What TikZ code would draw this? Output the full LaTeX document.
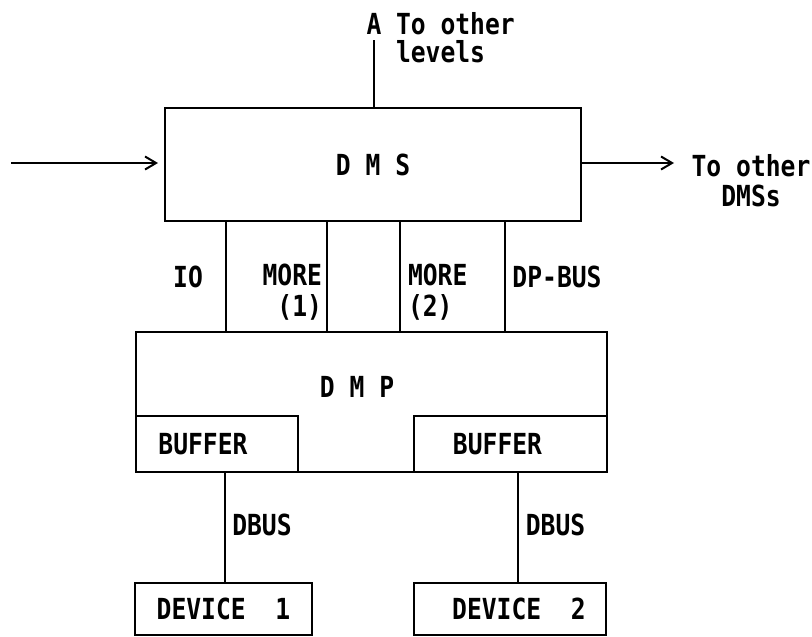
\documentclass[tikz,border=0pt]{standalone}
\usepackage{fontspec}
\setmainfont[FakeStretch=0.85,UprightFont=* Bold]{DejaVu Sans Mono}
\usetikzlibrary{arrows.meta}
\newcommand\dfont{\fontsize{29}{29}\selectfont}
\begin{document}
\begin{tikzpicture}[x=1pt,y=-1pt,
  box/.style={draw, line width=2.2pt, inner sep=0pt, outer sep=0pt, font=\dfont},
  lbl/.style={inner sep=0pt, outer sep=0pt, font=\dfont},
  wire/.style={line width=1.8pt},
  arr/.style={wire, -{Straight Barb[length=11pt,width=13pt,line width=2pt]}}]
\useasboundingbox (0,0) rectangle (812,637);
% boxes
\node[box, minimum width=416pt, minimum height=113pt] (dms) at (373,164.5) {D M S};
\node[box, minimum width=471pt, minimum height=140pt] (dmp) at (371.5,402) {};
\node[lbl] (dmptext) at (357,387) {D M P};
\node[box, minimum width=162pt, minimum height=56pt] (bufL) at (217,444) {BUFFER\kern28pt};
\node[box, minimum width=193pt, minimum height=56pt] (bufR) at (510.5,444) {BUFFER\kern26pt};
\node[box, minimum width=177pt, minimum height=52pt] (dev1) at (223.5,609) {DEVICE~~1};
\node[box, minimum width=192pt, minimum height=52pt] (dev2) at (510,609) {\kern18pt DEVICE~~2};
% top connection
\node[lbl] (A) at (374,24) {A};
\node[lbl, anchor=west, align=left, font=\fontsize{29}{28}\selectfont] (lev) at (396,38) {To other\\levels};
\draw[wire] (dms.north -| A) -- ([yshift=-5pt]A.south);
% left input
\coordinate (in) at (11,163);
\draw[arr, shorten >=7pt] (in) -- (in -| dms.west);
% right output
\coordinate (out) at (674,163);
\draw[arr] (out -| dms.east) -- (out);
\node[lbl, align=center, font=\fontsize{29}{30}\selectfont] (odms) at (751,181) {To other\\DMSs};
% DMS-DMP lines
\coordinate (c1) at (226,0);
\coordinate (c2) at (327,0);
\coordinate (c3) at (400,0);
\coordinate (c4) at (505,0);
\draw[wire] (dms.south -| c1) -- (dmp.north -| c1);
\draw[wire] (dms.south -| c2) -- (dmp.north -| c2);
\draw[wire] (dms.south -| c3) -- (dmp.north -| c3);
\draw[wire] (dms.south -| c4) -- (dmp.north -| c4);
\node[lbl] (io) at (188,277) {IO};
\node[lbl, anchor=east, align=right, font=\fontsize{29}{31}\selectfont] (m1) at (322,292) {MORE\\(1)};
\node[lbl, anchor=west, align=left, font=\fontsize{29}{31}\selectfont] (m2) at (408,292) {MORE\\(2)};
\node[lbl] (dp) at (557,277) {DP-BUS};
% DBUS
\coordinate (d1) at (225,0);
\coordinate (d2) at (518,0);
\draw[wire] (bufL.south -| d1) -- (dev1.north -| d1);
\draw[wire] (bufR.south -| d2) -- (dev2.north -| d2);
\node[lbl] (db1) at (262,525) {DBUS};
\node[lbl] (db2) at (555.5,525) {DBUS};
\end{tikzpicture}
\end{document}
